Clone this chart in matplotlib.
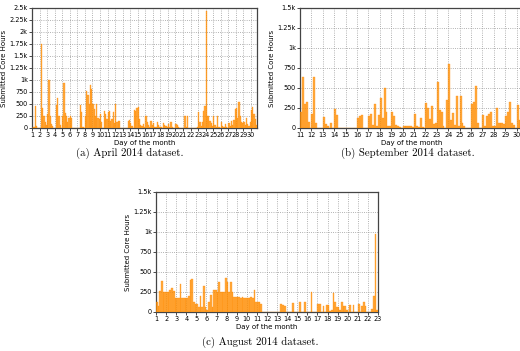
import matplotlib
matplotlib.use("Agg")
import matplotlib.pyplot as plt
from matplotlib.ticker import FuncFormatter
import numpy as np

# submitted core hours, 6 bins (4h) per day
april_days = list(range(1, 31))
april_vals = [
    0, 20, 460, 40, 10, 0,          # 1
    0, 1750, 420, 250, 120, 60,     # 2
    300, 1000, 250, 80, 40, 0,      # 3
    0, 480, 630, 250, 60, 0,        # 4
    250, 930, 320, 250, 120, 200,   # 5
    250, 200, 0, 0, 0, 0,           # 6
    0, 0, 480, 340, 30, 0,          # 7
    250, 780, 680, 500, 900, 820,   # 8
    500, 400, 250, 500, 200, 180,   # 9
    300, 120, 0, 350, 300, 180,     # 10
    340, 350, 150, 180, 340, 100,   # 11
    500, 120, 150, 150, 0, 0,       # 12
    0, 0, 0, 0, 150, 160,           # 13
    100, 50, 0, 380, 350, 420,      # 14
    430, 180, 60, 40, 90, 20,       # 15
    250, 120, 60, 20, 140, 60,      # 16
    100, 30, 20, 120, 60, 30,       # 17
    20, 10, 100, 60, 40, 20,        # 18
    80, 30, 120, 20, 0, 10,         # 19
    80, 60, 30, 0, 0, 0,            # 20
    0, 260, 20, 250, 10, 0,         # 21
    0, 0, 0, 0, 0, 20,              # 22
    330, 120, 40, 120, 350, 450,    # 23
    2430, 260, 240, 150, 100, 50,   # 24
    250, 60, 30, 250, 20, 10,       # 25
    120, 40, 20, 80, 20, 10,        # 26
    100, 40, 150, 60, 160, 400,     # 27
    420, 200, 550, 240, 130, 100,   # 28
    130, 60, 200, 80, 40, 120,      # 29
    380, 440, 300, 180, 60, 0,      # 30
]

sept_days = list(range(11, 31))
sept_vals = [
    200, 640, 300, 320, 80, 0,      # 11
    170, 640, 60, 0, 0, 0,          # 12
    140, 50, 20, 0, 60, 0,          # 13
    240, 160, 0, 0, 0, 0,           # 14
    0, 0, 0, 0, 0, 0,               # 15
    130, 150, 160, 0, 0, 0,         # 16
    150, 180, 40, 300, 20, 160,     # 17
    380, 120, 500, 200, 30, 20,     # 18
    200, 150, 40, 20, 10, 0,        # 19
    20, 30, 30, 20, 20, 10,         # 20
    180, 20, 10, 130, 10, 0,        # 21
    310, 250, 110, 270, 50, 60,     # 22
    580, 220, 200, 20, 0, 350,      # 23
    800, 100, 190, 40, 400, 20,     # 24
    400, 60, 20, 0, 0, 0,           # 25
    300, 330, 530, 60, 0, 0,        # 26
    160, 20, 150, 180, 200, 20,     # 27
    30, 250, 60, 60, 60, 50,        # 28
    150, 200, 330, 60, 40, 0,       # 29
    290, 100, 60, 40, 20, 0,        # 30
]

aug_days = list(range(1, 23))
aug_vals = [
    120, 80, 260, 390, 250, 250,    # 1
    250, 250, 270, 300, 260, 180,   # 2
    180, 180, 350, 180, 180, 180,   # 3
    180, 200, 400, 410, 130, 100,   # 4
    100, 60, 200, 60, 330, 60,      # 5
    30, 130, 210, 60, 280, 270,     # 6
    250, 370, 250, 250, 250, 430,   # 7
    380, 250, 380, 250, 190, 190,   # 8
    190, 190, 180, 190, 180, 180,   # 9
    180, 180, 190, 180, 270, 130,   # 10
    130, 130, 100, 0, 0, 0,         # 11
    0, 0, 0, 0, 0, 0,               # 12
    0, 0, 100, 90, 80, 0,           # 13
    0, 0, 0, 110, 0, 0,             # 14
    0, 120, 0, 0, 120, 0,           # 15
    0, 0, 250, 0, 0, 0,             # 16
    100, 100, 0, 80, 0, 90,         # 17
    90, 10, 20, 240, 120, 60,       # 18
    60, 30, 120, 70, 80, 20,        # 19
    0, 90, 0, 90, 0, 0,             # 20
    100, 0, 80, 130, 80, 0,         # 21
    0, 0, 40, 200, 980, 30,         # 22
]


def kfmt(v, pos):
    if v == 0:
        return "0"
    if v < 1000:
        return "%d" % v
    return ("%g" % (v / 1000.0)) + "k"


def panel(ax, days, vals, xlim, ymax):
    nb = 6
    x = np.array([d + i / nb for d in days for i in range(nb)])
    ax.bar(x, vals, width=1.0 / nb, align="edge", color="#ff8c00",
           edgecolor="#ff8c00", alpha=0.75, linewidth=0.3, zorder=3)
    ax.set_xlim(*xlim)
    ax.set_ylim(0, ymax)
    ax.set_xticks(days + ([days[-1] + 1] if xlim[1] >= days[-1] + 1 else []))
    ax.set_yticks(np.arange(0, ymax + 1, 250))
    ax.yaxis.set_major_formatter(FuncFormatter(kfmt))
    ax.grid(True, linestyle=":", color="#999999", linewidth=0.6, zorder=0)
    ax.tick_params(labelsize=4.7, length=2, width=0.5, pad=1)
    for s in ax.spines.values():
        s.set_color("#444444")
        s.set_linewidth(0.9)
    ax.set_xlabel("Day of the month", fontsize=5, labelpad=1)
    ax.set_ylabel("Submitted Core Hours", fontsize=5, labelpad=2)


fig = plt.figure(figsize=(5.2, 3.51), dpi=100)

ax1 = fig.add_axes([32 / 520, 1 - 128 / 351, 225 / 520, 120 / 351])
panel(ax1, april_days, april_vals, (1, 30.8), 2500)

ax2 = fig.add_axes([300 / 520, 1 - 128 / 351, 222.4 / 520, 120 / 351])
panel(ax2, sept_days, sept_vals, (11, 30.5), 1500)

ax3 = fig.add_axes([156 / 520, 1 - 312 / 351, 222 / 520, 120 / 351])
panel(ax3, aug_days, aug_vals, (1, 23), 1500)

cap = dict(fontsize=7.8, family="cmr10", ha="center", va="center")
fig.text(130 / 520, 1 - 153 / 351, "(a) April 2014 dataset.", **cap)
fig.text(408 / 520, 1 - 153 / 351, "(b) September 2014 dataset.", **cap)
fig.text(260 / 520, 1 - 342 / 351, "(c) August 2014 dataset.", **cap)

fig.savefig("out.png", dpi=100)
